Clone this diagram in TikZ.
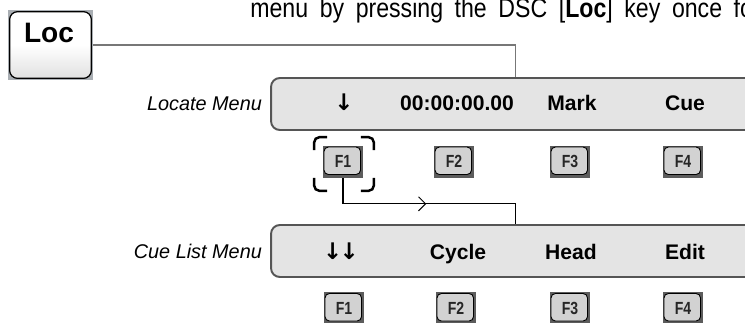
\documentclass[tikz,border=0pt]{standalone}
\usepackage{fontspec}
\setmainfont{Liberation Sans}
\newfontfamily\narrowfont[FakeStretch=0.8]{Liberation Sans}
\newfontfamily\introfont[FakeStretch=0.86]{Liberation Sans}
\newfontfamily\arrowfont{DejaVu Sans}
\usetikzlibrary{arrows.meta, positioning, calc, decorations.markings}
\definecolor{barfill} {HTML}{E4E4E4}
\definecolor{barline} {HTML}{555555}
\definecolor{keyface} {HTML}{D2D2D2}
\definecolor{keyedge} {HTML}{5C5C5C}
\definecolor{locback} {HTML}{A9AEB3}
\definecolor{wiregray}{HTML}{777777}

\begin{document}
\begin{tikzpicture}[x=0.02cm, y=-0.02cm,
    menubar/.style={draw=barline, line width=1.1pt, fill=barfill, rounded corners=5pt,
                    minimum width=9.78cm, minimum height=1.04cm},
    menulbl/.style={font=\fontsize{12}{14}\selectfont\bfseries, text height=1.6ex, text depth=0.1ex},
    menuarrow/.style={font=\arrowfont\fontsize{13}{15}\selectfont\bfseries, text height=1.6ex, text depth=0.1ex},
    menuname/.style={font=\fontsize{11.3}{13}\selectfont\itshape},
    fkey/.style={rectangle, fill=keyedge, minimum width=0.82cm, minimum height=0.64cm,
                 font=\narrowfont\fontsize{10}{12}\selectfont\bfseries, text=black!85,
                 path picture={\draw[fill=keyface, line width=0.5pt, rounded corners=2.5pt]
                   ($(path picture bounding box.north west)+(1.5,1.5)$) rectangle
                   ($(path picture bounding box.south east)+(-3,-3)$);}},
    bracket/.style={line width=1.4pt, rounded corners=3pt},
    wire/.style={draw=wiregray, line width=0.85pt},
    flow/.style={line width=0.6pt, postaction={decorate}, decoration={markings,
                 mark=at position 0.5 with {\arrow{Straight Barb[length=4pt, width=8pt]}}}}]
  \useasboundingbox (0,0) rectangle (745,322);
  \clip (0,0) rectangle (745,322);

  \node[anchor=base west, font=\introfont\fontsize{15.3}{18}\selectfont, inner sep=0pt] (intro)
    at (250,17) {\spaceskip=6.6pt menu by pressing the DSC [\textbf{Loc}] key once for};

  % Loc key
  \node[rectangle, fill=locback, minimum width=1.7cm, minimum height=1.4cm] (loc) at (50.5,45) {};
  \draw[line width=0.7pt, rounded corners=4.5pt, top color=white, bottom color=black!12, middle color=white]
    ($(loc.north west)+(2,2)$) rectangle ($(loc.south east)+(-2,-2)$);
  \node[font=\fontsize{16}{18}\selectfont\bfseries] (loctext) at (49,33) {Loc};

  % menus
  \node[menubar] (bar1) at (515.5,104) {};
  \node[menubar] (bar2) at (515.5,251) {};
  \node[menuname, left=0.04cm of bar1] (locname) {Locate Menu};
  \node[menuname, left=0.04cm of bar2] (cuename) {Cue List Menu};

  \node[menuarrow] (m1a) at (344,104) {↓};
  \node[menulbl] (m1b) at (457,104) {00:00:00.00};
  \node[menulbl] (m1c) at (572,104) {Mark};
  \node[menulbl] (m1d) at (685,104) {Cue};
  \node[menuarrow, inner xsep=0pt] (m2a) at (341,253) {↓\kern-1.5pt↓};
  \node[menulbl] (m2b) at (458,253) {Cycle};
  \node[menulbl] (m2c) at (571,253) {Head};
  \node[menulbl] (m2d) at (685,253) {Edit};

  % soft keys
  \foreach \lbl/\xx [count=\i] in {F1/343, F2/454, F3/570, F4/683}
    \node[fkey] (ka\i) at (\xx,161.5) {\lbl};
  \foreach \lbl/\xx [count=\i] in {F1/344, F2/456, F3/570, F4/683}
    \node[fkey] (kb\i) at (\xx,308) {\lbl};

  % selection marks round F1
  \coordinate (selnw) at ($(ka1.north west)+(-8,-8)$);
  \coordinate (selse) at ($(ka1.south east)+(10,13)$);
  \coordinate (selne) at (selse |- selnw);
  \coordinate (selsw) at (selnw |- selse);
  \draw[bracket] ($(selnw)+(0,13)$) |- ($(selnw)+(13,0)$);
  \draw[bracket] ($(selne)+(-13,0)$) -| ($(selne)+(0,13)$);
  \draw[bracket] ($(selsw)+(0,-13)$) |- ($(selsw)+(13,0)$);
  \draw[bracket] ($(selse)+(-13,0)$) -| ($(selse)+(0,-13)$);

  % connectors
  \draw[wire] (loc.east) -| (bar1.north);
  \draw[flow] (ka1.south) -- ++(0,26) -| (bar2.north);
\end{tikzpicture}
\end{document}
